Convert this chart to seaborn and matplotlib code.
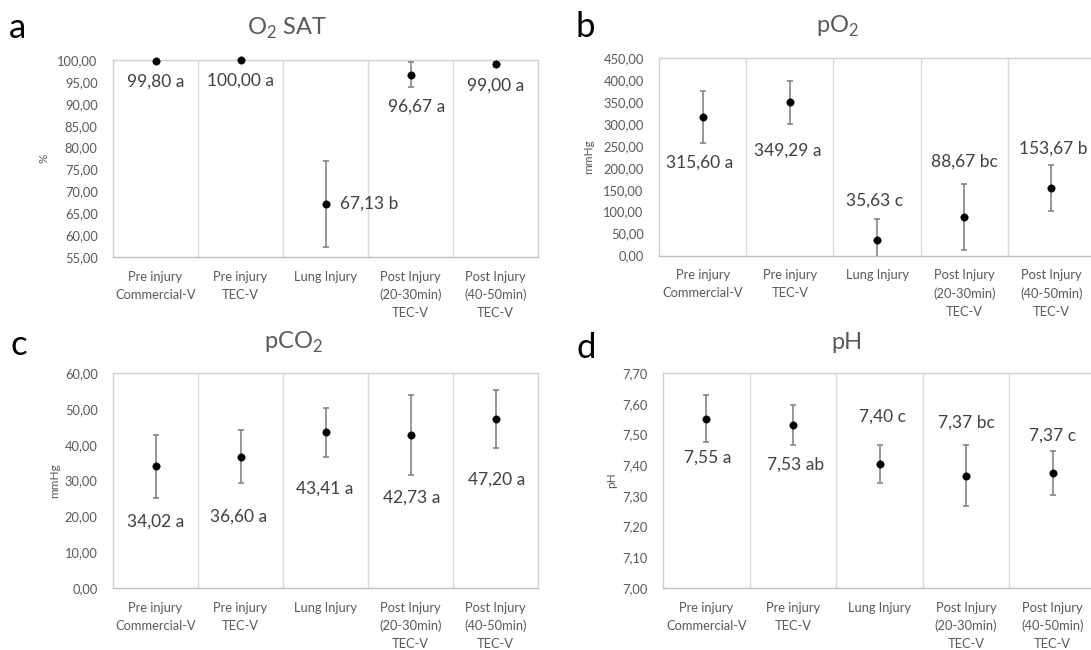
import numpy as np
import pandas as pd
import matplotlib
matplotlib.use("Agg")
import matplotlib.pyplot as plt
import seaborn as sns

# categories shared by all four panels
categories = ["Pre injury\nCommercial-V", "Pre injury\nTEC-V", "Lung Injury",
              "Post Injury\n(20-30min)\nTEC-V", "Post Injury\n(40-50min)\nTEC-V"]

# means, SDs and significance letters
o2sat_mean = [99.80, 100.00, 67.13, 96.67, 99.00]
o2sat_sd = [0.4, 0.0, 9.9, 2.8, 0.6]
o2sat_letter = ["a", "a", "b", "a", "a"]

po2_mean = [315.60, 349.29, 35.63, 88.67, 153.67]
po2_sd = [58.5, 49.0, 47.0, 75.0, 52.5]
po2_letter = ["a", "a", "c", "bc", "b"]

pco2_mean = [34.02, 36.60, 43.41, 42.73, 47.20]
pco2_sd = [8.8, 7.4, 6.8, 11.2, 8.0]
pco2_letter = ["a", "a", "a", "a", "a"]

ph_mean = [7.55, 7.53, 7.40, 7.37, 7.37]
ph_sd = [0.077, 0.066, 0.062, 0.099, 0.071]
ph_letter = ["a", "ab", "c", "bc", "c"]
ph_point = [7.551, 7.531, 7.405, 7.366, 7.375]  # plotted positions (labels are rounded)

sns.set_theme(style="white")
plt.rcParams["font.family"] = ["Lato", "DejaVu Sans"]
plt.rcParams["mathtext.fontset"] = "custom"
plt.rcParams["mathtext.rm"] = "Lato"

W, H = 1091, 650
fig = plt.figure(figsize=(W / 100, H / 100), dpi=100)


def rect(l, t, r, b):
    return [l / W, 1 - b / H, (r - l) / W, (b - t) / H]


def comma(v, _=None):
    return f"{v:.2f}".replace(".", ",")


panels = [
    dict(letter="a", title=r"O$_\mathregular{2}$ SAT", ylabel="%", mean=o2sat_mean, point=o2sat_mean,
         sd=o2sat_sd, lett=o2sat_letter, ylim=(55, 100), step=5, box=(113, 60, 538, 257),
         lpos=(9, 38.5), tpos=(287, 35), ylx=49,
         lab=[(0, 95.1, "center"), (0, 95.2, "center"), (0.17, 67.1, "left"), (0.07, 89.4, "center"), (0, 94.2, "center")]),
    dict(letter="b", title=r"pO$_\mathregular{2}$", ylabel="mmHg", mean=po2_mean, point=po2_mean,
         sd=po2_sd, lett=po2_letter, ylim=(0, 450), step=50, box=(659, 58, 1095, 255.5),
         lpos=(576, 37), tpos=(838, 33), ylx=594,
         lab=[(-0.03, 210.5, "center"), (-0.02, 238.7, "center"), (-0.03, 126, "center"), (0, 215, "center"), (0.02, 243, "center")]),
    dict(letter="c", title=r"pCO$_\mathregular{2}$", ylabel="mmHg", mean=pco2_mean, point=pco2_mean,
         sd=pco2_sd, lett=pco2_letter, ylim=(0, 60), step=10, box=(113, 373, 538, 588),
         lpos=(10, 355), tpos=(293, 349), ylx=60,
         lab=[(0, 18.4, "center"), (-0.02, 19.8, "center"), (-0.01, 27.7, "center"), (0.01, 25.1, "center"), (0.01, 30.2, "center")]),
    dict(letter="d", title="pH", ylabel="pH", mean=ph_mean, point=ph_point,
         sd=ph_sd, lett=ph_letter, ylim=(7.0, 7.7), step=0.1, box=(663, 373, 1096, 588),
         lpos=(576, 358), tpos=(847, 349), ylx=617,
         lab=[(0.02, 7.425, "center"), (0.03, 7.401, "center"), (0.03, 7.557, "center"), (0, 7.539, "center"), (0, 7.496, "center")]),
]

x = np.arange(len(categories))
for p in panels:
    ax = fig.add_axes(rect(*p["box"]))
    df = pd.DataFrame({"cat": categories, "val": p["point"]})
    sns.scatterplot(data=df, x="cat", y="val", color="black", s=28, edgecolor="black",
                    zorder=4, clip_on=False, ax=ax)
    ax.errorbar(x, p["point"], yerr=p["sd"], fmt="none", ecolor="#7a7a7a", elinewidth=1.1,
                capsize=2.5, capthick=1.1, zorder=3)
    for i, (dx, ly, ha) in enumerate(p["lab"]):
        ax.text(x[i] + dx, ly, f"{comma(p['mean'][i])} {p['lett'][i]}", ha=ha, va="center",
                fontsize=12.5, color="#404040")

    ax.set_xlim(-0.5, len(categories) - 0.5)
    lo, hi = p["ylim"]
    ax.set_ylim(lo, hi)
    ax.set_yticks(np.arange(lo, hi + p["step"] / 2, p["step"]))
    ax.yaxis.set_major_formatter(plt.FuncFormatter(comma))
    ax.set_xticks(x)
    ax.set_xticklabels(categories, linespacing=1.57)
    ax.set_xticks(x[:-1] + 0.5, minor=True)
    ax.grid(False)
    ax.grid(True, which="minor", axis="x", color="#d9d9d9", lw=1)
    ax.tick_params(axis="x", which="both", length=0, pad=10, labelsize=9.3, labelcolor="#595959")
    ax.tick_params(axis="y", length=0, pad=11, labelsize=9.3, labelcolor="#595959")
    for s in ax.spines.values():
        s.set_color("#d0d0d0")
        s.set_linewidth(1)
    ax.spines["bottom"].set_color("#bfbfbf")
    ax.set_xlabel("")
    ax.set_ylabel(p["ylabel"], fontsize=8.5, color="#595959")
    l, t, r, b = p["box"]
    ax.yaxis.set_label_coords((p["ylx"] - l) / (r - l), 0.5)

    fig.text(p["lpos"][0] / W, 1 - p["lpos"][1] / H, p["letter"], fontsize=25,
             ha="left", va="baseline", color="black")
    fig.text(p["tpos"][0] / W, 1 - p["tpos"][1] / H, p["title"], fontsize=17,
             ha="center", va="baseline", color="#595959")

fig.savefig("out.png", dpi=100)
